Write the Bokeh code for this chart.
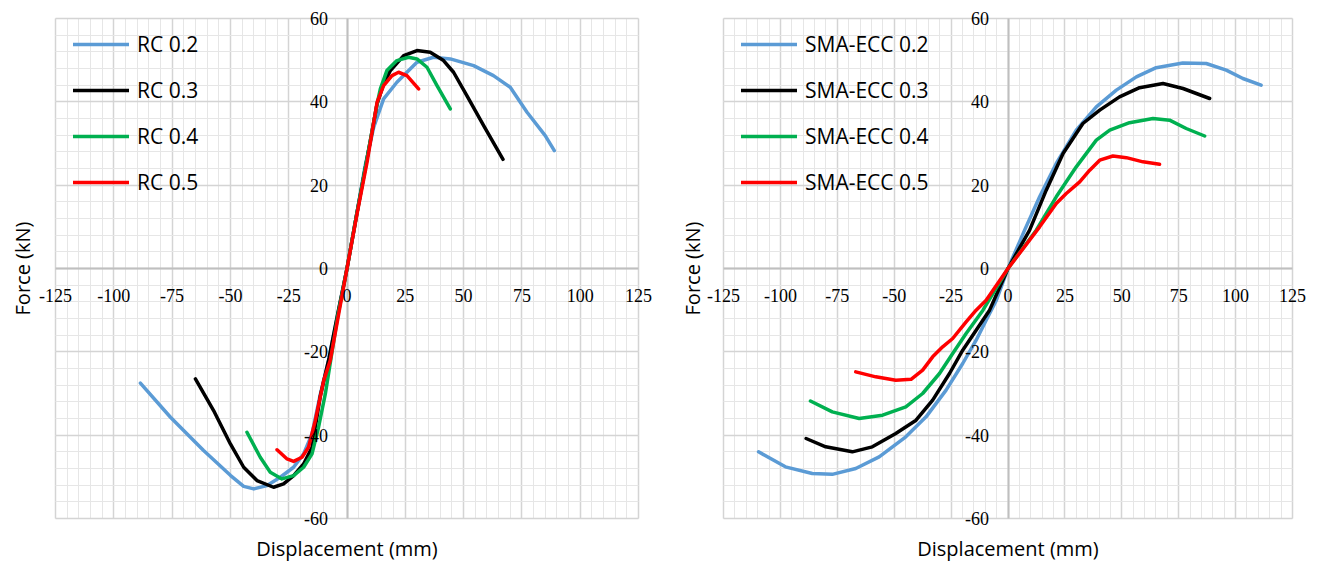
import math
from bokeh.plotting import figure
from bokeh.layouts import row
from bokeh.models import (Range1d, SingleIntervalTicker, FixedTicker, Grid, Legend,
                          LegendItem, ColumnDataSource, LabelSet, Label)
from bokeh.embed import file_html
from bokeh.resources import INLINE

# ---------------- data ----------------
x_ticks = [-125, -100, -75, -50, -25, 0, 25, 50, 75, 100, 125]
x_tick_labels = [str(v) for v in x_ticks]
y_ticks = [-60, -40, -20, 0, 20, 40, 60]
y_tick_labels = [str(v) for v in y_ticks]

# RC columns
rc02_x = [-88.6, -75.7, -61.5, -49.9, -44.3, -40.0, -34.3, -28.6, -22.9, -18.6, -15.0, -11.4,
          -7.9, -4.0, 0, 4.0, 7.8, 11.5, 15.7, 21.4, 30.0, 37.1, 44.3, 54.3, 62.8, 70.0,
          77.2, 85.0, 88.9]
rc02_y = [-27.5, -35.7, -43.7, -49.7, -52.3, -52.9, -52.1, -50.1, -47.7, -44.5, -39.7, -30.1,
          -22.1, -11.0, 0, 12.5, 24.7, 34.0, 40.7, 44.7, 49.5, 50.7, 50.3, 48.7, 46.3, 43.5,
          37.5, 31.9, 28.3]

rc03_x = [-65.0, -57.2, -50.0, -44.3, -38.6, -31.5, -27.2, -22.9, -18.6, -15.0, -11.4,
          -7.7, -4.0, 0, 4.0, 8.3, 12.9, 15.5, 18.6, 24.3, 30.0, 35.7, 41.4, 45.7, 51.4,
          58.6, 66.9]
rc03_y = [-26.5, -34.1, -42.1, -47.7, -50.9, -52.5, -51.7, -49.7, -46.9, -42.9, -30.5,
          -21.5, -11.0, 0, 12.5, 25.5, 39.5, 44.0, 47.5, 51.1, 52.3, 51.9, 49.9, 47.1, 41.5,
          34.3, 26.2]

rc04_x = [-42.9, -37.2, -32.9, -27.9, -22.9, -18.6, -15.0, -12.2, -9.3, -4.0, 0, 4.0,
          8.3, 12.9, 14.3, 17.1, 21.4, 26.4, 30.0, 34.3, 38.6, 44.3]
rc04_y = [-39.3, -45.3, -48.9, -50.5, -49.7, -47.7, -44.5, -38.1, -30.1, -11.5, 0, 12.5,
          25.5, 39.5, 43.1, 47.5, 49.9, 50.7, 50.3, 48.3, 43.9, 38.3]

rc05_x = [-30.0, -25.7, -22.9, -19.3, -16.5, -13.6, -10.0, -7.2, -3.6, 0, 4.2, 8.6,
          12.9, 15.7, 19.3, 22.1, 25.7, 30.7]
rc05_y = [-43.5, -45.7, -46.3, -45.3, -42.9, -36.5, -26.9, -22.1, -11.0, 0, 12.8, 25.5,
          39.9, 43.9, 46.3, 47.1, 46.3, 43.1]

# SMA-ECC columns
sma02_x = [-109.6, -97.8, -86.0, -77.2, -66.9, -56.6, -44.9, -36.0, -27.2, -19.9, -14.0,
           -9.6, -5.1, 0, 7.3, 13.9, 21.2, 30.0, 38.8, 47.6, 56.4, 65.1, 76.8, 87.1, 95.9,
           103.2, 111.2]
sma02_y = [-44.0, -47.6, -49.2, -49.4, -48.0, -45.2, -40.4, -35.6, -29.2, -22.8, -17.2,
           -12.4, -7.6, 0, 9.2, 17.2, 25.2, 33.2, 38.8, 42.8, 46.0, 48.2, 49.3, 49.2, 47.6,
           45.6, 44.0]

sma03_x = [-88.7, -80.1, -68.4, -59.6, -49.3, -40.4, -33.1, -25.7, -19.9, -14.0, -8.1, 0,
           9.5, 16.8, 24.2, 32.9, 40.3, 49.0, 57.8, 68.1, 76.9, 88.6]
sma03_y = [-40.8, -42.8, -44.0, -42.8, -39.6, -36.4, -31.6, -25.2, -19.6, -14.8, -10.0, 0,
           9.2, 18.8, 27.6, 34.8, 38.0, 41.2, 43.4, 44.4, 43.2, 40.8]

sma04_x = [-86.8, -77.2, -65.4, -55.1, -44.9, -37.5, -30.1, -24.3, -18.4, -11.0, 0, 12.4,
           21.2, 30.0, 38.8, 44.7, 53.4, 63.7, 71.0, 78.3, 86.4]
sma04_y = [-31.8, -34.4, -36.0, -35.2, -33.2, -30.0, -25.2, -20.4, -15.6, -10.0, 0, 9.2,
           17.2, 24.4, 30.8, 33.2, 35.0, 36.0, 35.6, 33.6, 31.8]

sma05_x = [-66.9, -58.1, -49.3, -42.6, -37.5, -33.1, -28.7, -24.3, -18.4, -14.0, -9.6, 0,
           13.9, 21.2, 25.6, 31.5, 35.9, 40.3, 46.1, 52.0, 59.3, 66.6]
sma05_y = [-24.8, -26.0, -26.8, -26.6, -24.4, -21.2, -18.8, -16.8, -12.8, -10.0, -7.6, 0,
           10.0, 15.6, 18.0, 20.8, 23.6, 26.0, 27.0, 26.6, 25.6, 25.0]

colors = ["#5b9bd5", "#000000", "#00b050", "#ff0000"]
rc_names = ["RC 0.2", "RC 0.3", "RC 0.4", "RC 0.5"]
sma_names = ["SMA-ECC 0.2", "SMA-ECC 0.3", "SMA-ECC 0.4", "SMA-ECC 0.5"]

FONT = "Open Sans"
MAJOR = "#d4d4d4"
MINOR = "#e6e6e6"
AXIS = "#bfbfbf"

W, H = 659, 562
XMIN, XMAX, YMIN, YMAX = -125, 125, -60, 60


def make_panel(series, names, area_left, area_w, title_px):
    # the frame fills the whole canvas; the plotting area is a sub-rectangle of it
    area_top, area_h = 18, 500
    kx = (XMAX - XMIN) / area_w
    ky = (YMAX - YMIN) / area_h
    x0 = XMIN - area_left * kx
    x1 = XMAX + (W - area_left - area_w) * kx
    y1 = YMAX + area_top * ky
    y0 = YMIN - (H - area_top - area_h) * ky

    p = figure(frame_width=W, frame_height=H,
               x_range=Range1d(x0, x1), y_range=Range1d(y0, y1),
               x_axis_location=None, y_axis_location=None,
               min_border=0, output_backend="svg", toolbar_location=None,
               background_fill_color="white", border_fill_color="white")
    p.outline_line_color = None
    p.grid.visible = False

    bx, by = (XMIN, XMAX), (YMIN, YMAX)
    p.add_layout(Grid(dimension=0, ticker=SingleIntervalTicker(interval=25, num_minor_ticks=5),
                      bounds=bx, cross_bounds=by, grid_line_color=MAJOR, grid_line_width=1.5,
                      minor_grid_line_color=MINOR, minor_grid_line_width=1))
    p.add_layout(Grid(dimension=1, ticker=SingleIntervalTicker(interval=20, num_minor_ticks=5),
                      bounds=by, cross_bounds=bx, grid_line_color=MAJOR, grid_line_width=1.5,
                      minor_grid_line_color=MINOR, minor_grid_line_width=1))
    # axes crossing at the origin
    p.add_layout(Grid(dimension=0, ticker=FixedTicker(ticks=[0]), bounds=bx, cross_bounds=by,
                      grid_line_color=AXIS, grid_line_width=2))
    p.add_layout(Grid(dimension=1, ticker=FixedTicker(ticks=[0]), bounds=by, cross_bounds=bx,
                      grid_line_color=AXIS, grid_line_width=2))

    # tick labels next to the crossing axes
    xs = ColumnDataSource(dict(x=x_ticks, y=[0] * len(x_ticks), t=x_tick_labels))
    p.add_layout(LabelSet(x="x", y="y", text="t", source=xs, text_align="center",
                          text_baseline="middle", y_offset=-27, text_font=FONT,
                          text_font_size="18px", text_color="#000000"))
    ys = ColumnDataSource(dict(x=[0] * len(y_ticks), y=y_ticks, t=y_tick_labels))
    p.add_layout(LabelSet(x="x", y="y", text="t", source=ys, text_align="right",
                          text_baseline="middle", x_offset=-19, text_font=FONT,
                          text_font_size="18px", text_color="#000000"))

    # axis titles
    p.add_layout(Label(x=(XMIN + XMAX) / 2, y=YMIN - 30 * ky, text="Displacement (mm)",
                       text_align="center", text_baseline="middle", text_font=FONT,
                       text_font_size="20px", text_color="#000000"))
    p.add_layout(Label(x=XMIN - title_px * kx, y=(YMIN + YMAX) / 2, text="Force (kN)",
                       angle=math.pi / 2, text_align="center", text_baseline="middle",
                       text_font=FONT, text_font_size="20px", text_color="#000000"))

    items = []
    for (sx, sy), c, n in zip(series, colors, names):
        r = p.line(sx, sy, line_color=c, line_width=3.5, line_join="round", line_cap="round")
        items.append(LegendItem(label=n, renderers=[r]))

    legend = Legend(items=items, location=(area_left + 18, 366), padding=0, margin=0,
                    spacing=18, glyph_width=56, glyph_height=28, label_height=28,
                    label_standoff=8, label_text_font=FONT,
                    label_text_font_size="21px", label_text_color="#000000",
                    border_line_color=None, background_fill_alpha=0)
    p.add_layout(legend, "center")
    return p


p1 = make_panel([(rc02_x, rc02_y), (rc03_x, rc03_y), (rc04_x, rc04_y), (rc05_x, rc05_y)],
                rc_names, 55, 583, 33)
p2 = make_panel([(sma02_x, sma02_y), (sma03_x, sma03_y), (sma04_x, sma04_y), (sma05_x, sma05_y)],
                sma_names, 64, 569, 31)

layout = row(p1, p2)
open("out.html", "w").write(file_html(layout, INLINE))
